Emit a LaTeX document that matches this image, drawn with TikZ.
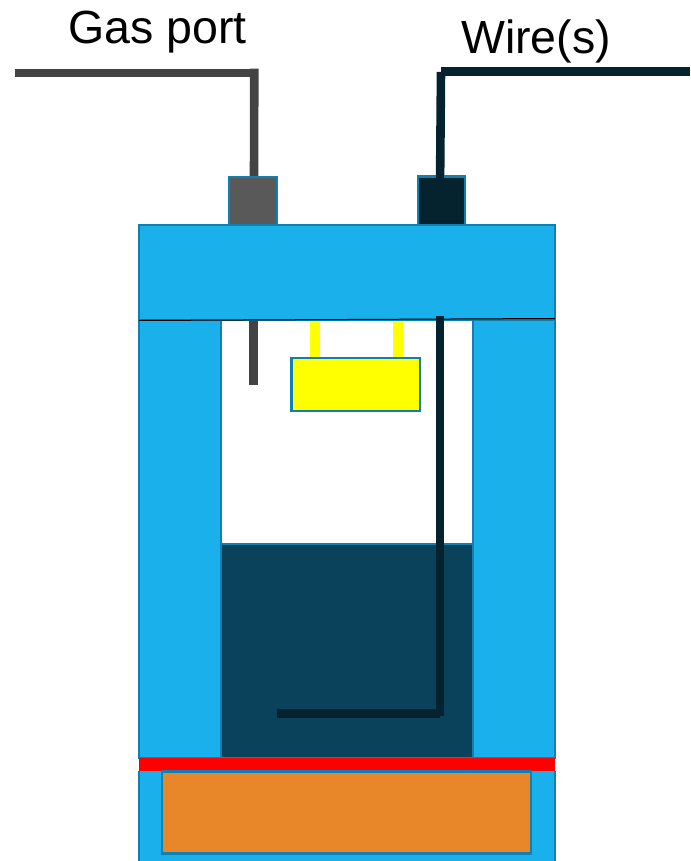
\documentclass[tikz,border=0pt]{standalone}
\usepackage{fontspec}
\setmainfont{Liberation Sans}
\definecolor{bodyblue}{HTML}{1AB0EC}
\definecolor{edgeblue}{HTML}{1080B0}
\definecolor{liquid}{HTML}{0A425C}
\definecolor{wirecol}{HTML}{05232F}
\definecolor{gascol}{HTML}{434343}
\definecolor{portgrey}{HTML}{595959}
\definecolor{heater}{HTML}{E8862A}
\definecolor{pureyellow}{HTML}{FFFF00}
\definecolor{purered}{HTML}{FF0000}
\tikzset{
  part/.style={draw=edgeblue,line width=2.4pt},
  gasline/.style={gascol,line width=8.6pt},
  wireline/.style={wirecol,line width=8.6pt},
  lbl/.style={inner sep=0pt,anchor=base west,font=\fontsize{46.5}{46.5}\selectfont,text=black}
}
\begin{document}
\begin{tikzpicture}[x=1pt,y=-1pt]
\useasboundingbox (0,0) rectangle (690,861);
% body
\fill[bodyblue] (139,771) rectangle (555,875);
\draw[edgeblue,line width=2.4pt] (139.2,771) -- (139.2,861) (554.8,771) -- (554.8,861);
\draw[part,fill=bodyblue] (139.2,320) rectangle (221,758);
\draw[part,fill=bodyblue] (473,320) rectangle (554.8,758);
% liquid
\draw[part,fill=liquid] (221,544) rectangle (473,758);
% ports
\draw[gasline] (15,73) -- (254.3,73);
\draw[gasline] (254.3,68.7) -- (254,178);
\draw[part,fill=portgrey] (229.2,177.2) rectangle (277,225);
\draw[wireline] (441,71.5) -- (690,71.5);
\draw[wireline] (441,72) -- (440,190);
\draw[part,fill=wirecol] (417.7,176.7) rectangle (464.8,225);
\draw[wireline] (440,170) -- (440,186);
% lid
\draw[part,fill=bodyblue] (139.2,225.2) rectangle (554.8,320);
\draw[black,line width=1pt] (139,320.5) -- (555,318.5);
% inner parts
\draw[gasline] (253.2,320.5) -- (253.2,384.5);
\fill[pureyellow] (309.5,321) rectangle (319.5,358);
\fill[pureyellow] (392.5,321) rectangle (403,358);
\draw[part,fill=pureyellow] (291.5,358) rectangle (419.7,410.8);
\draw[wireline] (440,316) -- (440,716);
\draw[wireline] (277,713.3) -- (440,713.3);
% base
\fill[purered] (139,757.7) rectangle (555,771.3);
\draw[part,fill=heater] (162.2,771.5) rectangle (530.8,853.5);
% labels
\node[lbl] (gas) at (68,44) {Gas port};
\node[lbl] (wire) at (461,54) {Wire(s)};
\end{tikzpicture}
\end{document}
